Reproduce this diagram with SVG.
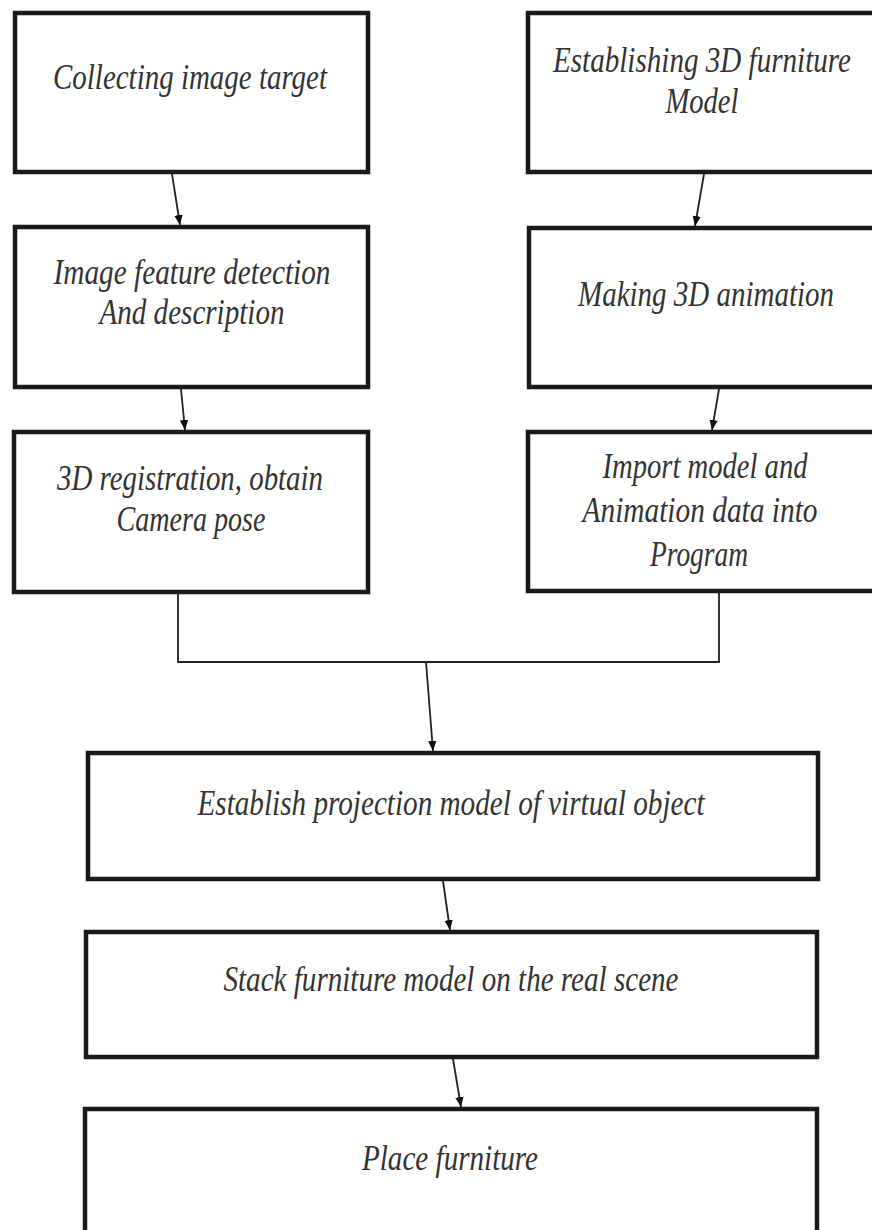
<svg xmlns="http://www.w3.org/2000/svg" width="872" height="1230" viewBox="0 0 872 1230">
<style>
.box{fill:#fff;stroke:#1a1a1a;stroke-width:4.5}
.t{font-family:"Liberation Serif","Times New Roman",serif;font-style:italic;font-size:35px;fill:#333;text-anchor:middle}
.c{fill:none;stroke:#222;stroke-width:1.8}
</style>
<defs>
<marker id="ah" viewBox="0 0 10 10" refX="10" refY="5" markerWidth="10" markerHeight="10" markerUnits="userSpaceOnUse" orient="auto">
<path d="M0,0.8 L10,5 L0,9.2 Z" fill="#111"/>
</marker>
</defs>
<rect width="872" height="1230" fill="#fff"/>
<g id="n1"><rect class="box" x="15" y="13" width="353" height="159"/>
<text class="t" x="190" y="89" textLength="274" lengthAdjust="spacingAndGlyphs">Collecting image target</text></g>
<g id="n2"><rect class="box" x="528" y="13" width="360" height="159"/>
<text class="t" x="702" y="72" textLength="298" lengthAdjust="spacingAndGlyphs">Establishing 3D furniture</text>
<text class="t" x="702" y="113" textLength="73" lengthAdjust="spacingAndGlyphs">Model</text></g>
<g id="n3"><rect class="box" x="15" y="227" width="353" height="160"/>
<text class="t" x="192" y="284" textLength="277" lengthAdjust="spacingAndGlyphs">Image feature detection</text>
<text class="t" x="192" y="324" textLength="185" lengthAdjust="spacingAndGlyphs">And description</text></g>
<g id="n4"><rect class="box" x="529" y="228" width="360" height="159"/>
<text class="t" x="706" y="306" textLength="256" lengthAdjust="spacingAndGlyphs">Making 3D animation</text></g>
<g id="n5"><rect class="box" x="14" y="432" width="354" height="160"/>
<text class="t" x="190" y="490" textLength="266" lengthAdjust="spacingAndGlyphs">3D registration, obtain</text>
<text class="t" x="191" y="531" textLength="149" lengthAdjust="spacingAndGlyphs">Camera pose</text></g>
<g id="n6"><rect class="box" x="528" y="432" width="360" height="159"/>
<text class="t" x="705" y="478" textLength="205" lengthAdjust="spacingAndGlyphs">Import model and</text>
<text class="t" x="700" y="522" textLength="235" lengthAdjust="spacingAndGlyphs">Animation data into</text>
<text class="t" x="699" y="566" textLength="98" lengthAdjust="spacingAndGlyphs">Program</text></g>
<g id="n7"><rect class="box" x="88" y="753" width="730" height="126"/>
<text class="t" x="451" y="815" textLength="507" lengthAdjust="spacingAndGlyphs">Establish projection model of virtual object</text></g>
<g id="n8"><rect class="box" x="86" y="932" width="731" height="125"/>
<text class="t" x="451" y="991" textLength="455" lengthAdjust="spacingAndGlyphs">Stack furniture model on the real scene</text></g>
<g id="n9"><rect class="box" x="85" y="1109" width="732" height="140"/>
<text class="t" x="450" y="1170" textLength="176" lengthAdjust="spacingAndGlyphs">Place furniture</text></g>
<g id="connectors">
<line class="c" x1="172" y1="174" x2="180" y2="225" marker-end="url(#ah)"/>
<line class="c" x1="181" y1="389" x2="185" y2="430" marker-end="url(#ah)"/>
<line class="c" x1="704" y1="174" x2="695" y2="226" marker-end="url(#ah)"/>
<line class="c" x1="719" y1="389" x2="712" y2="430" marker-end="url(#ah)"/>
<polyline class="c" points="178,594 178,662 719,662 719,593"/>
<line class="c" x1="426" y1="662" x2="433" y2="751" marker-end="url(#ah)"/>
<line class="c" x1="443" y1="881" x2="450" y2="930" marker-end="url(#ah)"/>
<line class="c" x1="453" y1="1059" x2="461" y2="1107" marker-end="url(#ah)"/>
</g>
</svg>
